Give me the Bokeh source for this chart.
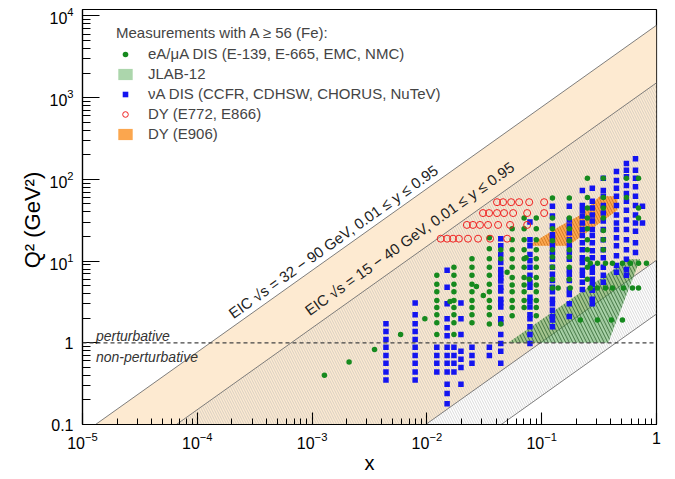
import math
from bokeh.plotting import figure
from bokeh.models import Range1d, LogTicker, LogTickFormatter, Span, Legend, LegendItem
from bokeh.core.properties import value
from bokeh.embed import file_html
from bokeh.resources import INLINE

# EIC kinematic bands: Q2 = x * s * y
eic_wide_sqrt_s = (32.0, 90.0)
eic_narrow_sqrt_s = (15.0, 40.0)
y_inel = (0.01, 0.95)

# eA / muA DIS (E-139, E-665, EMC, NMC)
eA_x_single = [0.00128, 0.0021, 0.0035, 0.0059, 0.0096, 0.0159, 0.027, 0.031, 0.050, 0.073, 0.078]
eA_q2_single = [0.40, 0.58, 0.83, 1.26, 1.97, 3.2, 4.9, 3.8, 7.3, 11.0, 6.0]
eA_col_x = [0.0122, 0.0172, 0.0247, 0.035, 0.044, 0.0553, 0.0703, 0.0897,
            0.124, 0.174, 0.25, 0.344, 0.547, 0.697]
eA_col_q2 = [
    [6.7, 5.2, 4.2, 3.3, 2.7, 2.2, 1.76, 1.26],
    [8.4, 6.7, 5.2, 4.2, 3.3, 2.7, 2.2, 1.76, 1.26],
    [10.7, 8.4, 6.7, 5.2, 4.2, 3.3, 2.7, 2.2, 1.76],
    [19.3, 14.2, 10.7, 8.4, 6.7, 5.2, 4.2, 3.3, 2.7, 2.2, 1.7],
    [13.8, 10.7, 1.7],
    [24.8, 18.2, 13.8, 10.7, 8.4, 6.3, 5.1, 4.2, 3.3, 2.7, 2.15],
    [33.7, 24.8, 18.2, 13.8, 10.7, 8.4, 6.3, 5.1, 4.2, 3.3, 2.7],
    [33.7, 24.8, 18.2, 13.8, 10.7, 8.4, 6.3, 5.1, 4.2, 3.3, 2.7, 2.15],
    [59, 33.7, 24.8, 17.8, 13.8, 11.2, 8.4, 6.0, 4.7],
    [59, 33.7, 24.8, 17.8, 13.8, 11.2, 8.4, 6.0],
    [103, 60, 44.5, 33.7, 24.8, 18.2, 13.8, 10.5, 8.4, 6.0],
    [103, 60, 44.5, 33.7, 23.6, 18.2, 13.8],
    [103, 60],
    [103, 44.5, 33.7],
]
eA_row_q2 = [9.4, 4.7, 1.9]
eA_row_x = [
    [0.265, 0.306, 0.359, 0.413, 0.505, 0.593, 0.697, 0.818],
    [0.139, 0.177, 0.265, 0.306, 0.359, 0.413, 0.515, 0.617, 0.697],
    [0.217, 0.306, 0.405, 0.505],
]

# nuA DIS (CCFR, CDHSW, CHORUS, NuTeV)
nu_col_x = [0.0044, 0.0079, 0.0122, 0.015, 0.0172, 0.0198, 0.0247, 0.035, 0.044, 0.079,
            0.124, 0.174, 0.226, 0.276, 0.344, 0.448, 0.547, 0.656, 0.755]
nu_col_q2 = [
    [0.35, 0.44, 0.56, 0.70, 0.88, 1.10, 1.37, 1.71],
    [0.35, 0.44, 0.56, 0.70, 0.88, 1.10, 1.37, 1.71, 2.2, 3.07],
    [0.44, 0.56, 0.70, 0.88],
    [0.18, 0.24, 0.31, 0.44, 0.56, 0.70, 0.88, 1.22, 1.53, 1.97, 3.0, 4.8, 7.7],
    [0.44, 0.56, 0.70, 0.88],
    [0.31, 0.50, 0.63, 0.79, 1.26, 1.97, 3.07],
    [0.56, 0.70, 0.88],
    [0.70, 0.88],
    [18.8, 15.4, 12.0, 9.6, 7.9, 6.9, 6.2, 5.7, 4.8, 4.3, 3.4, 3.1, 2.75, 1.97, 1.76, 1.26, 0.98, 0.79, 0.56],
    [30, 18.2, 15.4, 12.0, 10.1, 8.4, 6.7, 5.5, 4.8, 3.6, 3.2, 2.75, 2.2, 1.97, 1.57, 1.26, 0.98],
    [47, 35.6, 26.9, 21.0, 18.2, 15.4, 12.7, 10.5, 8.4, 6.9, 5.8, 4.8, 4.2, 3.4, 3.0, 2.5, 2.1, 1.9, 1.57],
    [47, 31.8, 26.9, 22.2, 18.2, 15.4, 12.7, 10.5, 7.9, 6.9, 5.8, 4.5, 3.9, 3.0, 2.1],
    [73, 48, 41.5, 35.6, 29.3, 24.3, 20.5, 16.8, 13.8, 11.0, 9.6, 7.7, 6.7, 5.5, 4.5],
    [78, 54, 44.5, 36.6, 31, 24.3, 20.5, 16.8, 13.4, 11.0, 8.4, 7.3, 6.0, 5.2, 4.4, 3.4, 3.0],
    [103, 73, 62, 48, 38.7, 31, 24.3, 18.2, 13.8, 11.0, 8.4, 6.7, 5.5],
    [125, 97, 78, 62, 48, 36.6, 29.3, 24.3, 19.3, 15.4, 11.6, 8.8, 7.3],
    [156, 129, 108, 84, 67, 54, 42, 31.8, 24.3, 18.2, 13.8, 10.5, 7.9, 6.7],
    [179, 129, 103, 81, 62, 48, 36.6, 29.3, 23.2, 16.8, 12.7],
    [47, 29.3],
]

# Drell-Yan (E772, E866)
dy_row_q2 = [18.8, 27.7, 38.7, 52.6]
dy_row_x = [
    [0.0132, 0.0150, 0.0169, 0.019, 0.0228, 0.0279, 0.0355, 0.050],
    [0.0223, 0.0252, 0.029, 0.0341, 0.0417, 0.053, 0.0747],
    [0.0308, 0.0348, 0.0408, 0.047, 0.0564, 0.0747, 0.105],
    [0.0408, 0.0461, 0.0542, 0.0636, 0.0778, 0.105],
]

# JLAB-12 and DY (E906) regions
jlab_x = [0.051, 0.38, 0.72, 0.57]
jlab_q2 = [1.0, 1.0, 10.5, 10.5]
e906_x = [0.076, 0.17, 0.456, 0.456, 0.32, 0.217, 0.145]
e906_q2 = [15.4, 15.4, 42, 62, 62, 36.6, 26.9]

FONT = "Liberation Sans"
X_MIN, X_MAX = 1e-5, 1.0
Y_MIN, Y_MAX = 0.1, 1.2e4
FRAME_W, FRAME_H = 574, 415

p = figure(width=675, height=479, x_axis_type="log", y_axis_type="log",
           x_range=Range1d(X_MIN, X_MAX), y_range=Range1d(Y_MIN, Y_MAX),
           output_backend="svg", toolbar_location=None, title=None,
           min_border_left=82, min_border_right=19, min_border_top=9, min_border_bottom=55)
p.xgrid.visible = False
p.ygrid.visible = False
p.outline_line_color = "black"
p.outline_line_width = 1.2
p.background_fill_color = "white"

# kinematic bands
x_lo, x_hi = 1e-7, 1.0
def band_coef(sqrt_s, yv):
    return sqrt_s ** 2 * yv

w_hi = band_coef(eic_wide_sqrt_s[1], y_inel[1])
w_lo = band_coef(eic_wide_sqrt_s[0], y_inel[0])
n_hi = band_coef(eic_narrow_sqrt_s[1], y_inel[1])
n_lo = band_coef(eic_narrow_sqrt_s[0], y_inel[0])

p.patch([x_lo, x_hi, x_hi, x_lo], [w_hi * x_lo, w_hi * x_hi, w_lo * x_hi, w_lo * x_lo],
        fill_color="#fdead1", line_color=None)
p.patch([x_lo, x_hi, x_hi, x_lo], [n_hi * x_lo, n_hi * x_hi, n_lo * x_hi, n_lo * x_lo],
        fill_color=None, line_color=None, hatch_pattern="\\", hatch_color="#b4b4b4",
        hatch_scale=5, hatch_weight=0.5)
for c in (w_hi, w_lo, n_hi, n_lo):
    p.line([x_lo, x_hi], [c * x_lo, c * x_hi], line_color="#707070", line_width=0.9)

p.add_layout(Span(location=1.0, dimension="width", line_color="#444444",
                  line_dash="4 3", line_width=1.2))

# JLAB-12 and E906 regions
jlab_r = p.patch(jlab_x, jlab_q2, fill_color="#3a9e3a", fill_alpha=0.42, line_color=None)
p.patch(jlab_x, jlab_q2, fill_color=None, line_color=None, hatch_pattern="\\",
        hatch_color="#2b5f2b", hatch_scale=7, hatch_weight=1.0, hatch_alpha=0.8)
e906_r = p.patch(e906_x, e906_q2, fill_color="#fba64e", line_color=None)
p.patch(e906_x, e906_q2, fill_color=None, line_color=None, hatch_pattern="\\",
        hatch_color="#c96f18", hatch_scale=6, hatch_weight=0.9, hatch_alpha=0.8)

# data points
nu_x, nu_y = [], []
for cx, qs in zip(nu_col_x, nu_col_q2):
    nu_x += [cx] * len(qs)
    nu_y += qs
eA_x, eA_y = list(eA_x_single), list(eA_q2_single)
for cx, qs in zip(eA_col_x, eA_col_q2):
    eA_x += [cx] * len(qs)
    eA_y += qs
for q, xs in zip(eA_row_q2, eA_row_x):
    eA_x += xs
    eA_y += [q] * len(xs)
dy_x, dy_y = [], []
for q, xs in zip(dy_row_q2, dy_row_x):
    dy_x += xs
    dy_y += [q] * len(xs)

nu_r = p.scatter(nu_x, nu_y, marker="square", size=5.5, fill_color="#1414f0", line_color=None)
eA_r = p.scatter(eA_x, eA_y, marker="circle", size=5.5, fill_color="#168a1e", line_color=None)
dy_r = p.scatter(dy_x, dy_y, marker="circle", size=7, fill_color=None, line_color="#f02020", line_width=1)

# band labels, rotated along the Q2 ~ x lines
px_dec_x = FRAME_W / math.log10(X_MAX / X_MIN)
px_dec_y = FRAME_H / math.log10(Y_MAX / Y_MIN)
ang = math.atan2(px_dec_y, px_dec_x)
p.text(x=[1.94e-4], y=[2.2], text=["EIC \u221as = 32 \u2212 90 GeV, 0.01 \u2264 y \u2264 0.95"],
       angle=ang, text_font=value(FONT), text_font_size="15px", text_color="#222222",
       text_align="left", text_baseline="alphabetic")
p.text(x=[8.95e-4], y=[2.4], text=["EIC \u221as = 15 \u2212 40 GeV, 0.01 \u2264 y \u2264 0.95"],
       angle=ang, text_font=value(FONT), text_font_size="15px", text_color="#222222",
       text_align="left", text_baseline="alphabetic")
p.text(x=[1.31e-5, 1.31e-5], y=[1.2, 0.85], text=["perturbative", "non-perturbative"],
       text_font=value(FONT), text_font_size="14px", text_font_style="italic",
       text_color="#333333", text_align="left", text_baseline=["alphabetic", "top"])

# axes
for ax, maj, mnr in ((p.xaxis, 12, 6), (p.yaxis, 17, 8)):
    ax.major_tick_in = maj
    ax.major_tick_out = 0
    ax.minor_tick_in = mnr
    ax.minor_tick_out = 0
    ax.axis_line_width = 1.2
    ax.major_tick_line_width = 1.1
    ax.minor_tick_line_width = 1.0
    ax.major_label_text_font = FONT
    ax.major_label_text_font_size = "16px"
    ax.major_label_text_color = "black"
    ax.axis_label_text_font = FONT
    ax.axis_label_text_font_style = "normal"
    ax.axis_label_text_color = "black"
p.xaxis.ticker = LogTicker(num_minor_ticks=10)
p.yaxis.ticker = LogTicker(num_minor_ticks=10)
p.xaxis.formatter = LogTickFormatter(min_exponent=0)
p.yaxis.formatter = LogTickFormatter(min_exponent=1)
p.xaxis.major_label_overrides = {1: "1"}
p.yaxis.major_label_overrides = {0.1: "0.1"}
p.xaxis.major_label_standoff = 7
p.yaxis.major_label_standoff = 9
p.xaxis.axis_label = "x"
p.xaxis.axis_label_text_font_size = "20px"
p.xaxis.axis_label_standoff = 0
p.yaxis.axis_label = "Q\u00b2  (GeV\u00b2)"
p.yaxis.axis_label_text_font_size = "22px"
p.yaxis.axis_label_standoff = 1

legend = Legend(items=[
    LegendItem(label="eA/\u03bcA DIS (E-139, E-665, EMC, NMC)", renderers=[eA_r]),
    LegendItem(label="JLAB-12", renderers=[jlab_r]),
    LegendItem(label="\u03bdA DIS (CCFR, CDHSW, CHORUS, NuTeV)", renderers=[nu_r]),
    LegendItem(label="DY (E772, E866)", renderers=[dy_r]),
    LegendItem(label="DY (E906)", renderers=[e906_r]),
], location=(34, 282), title="Measurements with A \u2265 56 (Fe):")
legend.title_text_font = FONT
legend.title_text_font_size = "15px"
legend.title_text_font_style = "normal"
legend.title_standoff = 4
legend.label_text_font = FONT
legend.label_text_font_size = "15px"
legend.label_standoff = 14
legend.glyph_width = 18
legend.glyph_height = 14
legend.label_height = 16
legend.spacing = 3
legend.padding = 0
legend.margin = 0
legend.border_line_color = None
legend.background_fill_alpha = 0
p.add_layout(legend)

open("out.html", "w").write(file_html(p, INLINE))
